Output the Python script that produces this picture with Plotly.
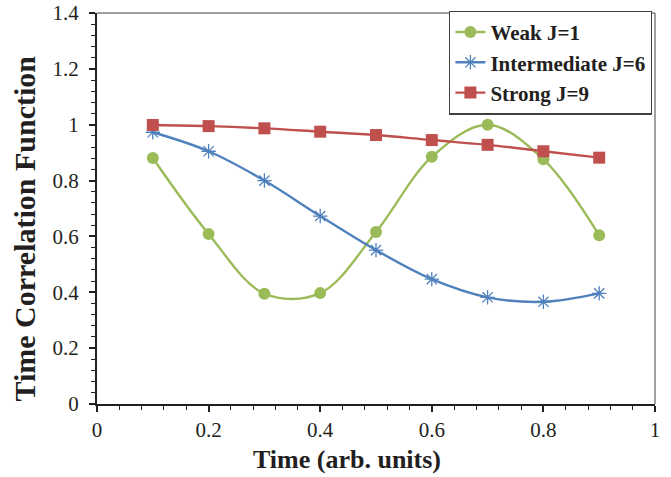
import plotly.graph_objects as go

# Time samples (arb. units)
time = [0.1, 0.2, 0.3, 0.4, 0.5, 0.6, 0.7, 0.8, 0.9]

# Time correlation function for three coupling strengths
weak_j1 = [0.881, 0.609, 0.395, 0.397, 0.616, 0.885, 1.0, 0.876, 0.604]
intermediate_j6 = [0.973, 0.905, 0.800, 0.673, 0.551, 0.447, 0.382, 0.366, 0.396]
strong_j9 = [0.999, 0.995, 0.987, 0.975, 0.963, 0.945, 0.928, 0.905, 0.882]

series_names = ["Weak J=1", "Intermediate J=6", "Strong J=9"]
x_ticks = [0, 0.2, 0.4, 0.6, 0.8, 1]
x_tick_text = ["0", "0.2", "0.4", "0.6", "0.8", "1"]
y_ticks = [0, 0.2, 0.4, 0.6, 0.8, 1, 1.2, 1.4]
y_tick_text = ["0", "0.2", "0.4", "0.6", "0.8", "1", "1.2", "1.4"]

FONT = "Liberation Serif"
GREEN = "#9BBB59"
BLUE = "#4F81BD"
RED = "#C0504D"

fig = go.Figure()

fig.add_trace(go.Scatter(
    x=time, y=weak_j1, name=series_names[0], mode="lines+markers",
    line=dict(color=GREEN, width=2.4, shape="spline", smoothing=1),
    marker=dict(symbol="circle", size=12, color=GREEN),
))
fig.add_trace(go.Scatter(
    x=time, y=intermediate_j6, name=series_names[1], mode="lines+markers",
    line=dict(color=BLUE, width=2.4, shape="spline", smoothing=1),
    marker=dict(symbol="asterisk-open", size=12, color=BLUE,
                line=dict(color=BLUE, width=1.3)),
))
fig.add_trace(go.Scatter(
    x=time, y=strong_j9, name=series_names[2], mode="lines+markers",
    line=dict(color=RED, width=2.4, shape="spline", smoothing=1),
    marker=dict(symbol="square", size=12, color=RED),
))

# Thin grey frame on the top and right of the plotting area
fig.add_shape(type="line", xref="paper", yref="paper", x0=0, x1=1, y0=1, y1=1,
              line=dict(color="#808080", width=1.5), layer="above")
fig.add_shape(type="line", xref="paper", yref="paper", x0=1, x1=1, y0=0, y1=1,
              line=dict(color="#808080", width=1.5), layer="above")

# Axis titles placed as annotations relative to the plotting area
fig.add_annotation(text="<b>Time (arb. units)</b>", xref="paper", yref="paper",
                   x=0.5, y=0, xshift=-29, yshift=-55, xanchor="center", yanchor="middle",
                   showarrow=False, font=dict(family=FONT, size=26, color="#231F20"))
fig.add_annotation(text="<b>Time Correlation Function</b>", xref="paper", yref="paper",
                   x=0, y=0.5, xshift=-73, yshift=-20, xanchor="center", yanchor="middle",
                   textangle=-90, showarrow=False,
                   font=dict(family=FONT, size=30, color="#231F20"))

fig.update_layout(
    width=671, height=477,
    margin=dict(l=97, r=16, t=11, b=73),
    paper_bgcolor="white", plot_bgcolor="white",
    font=dict(family=FONT, color="#231F20", size=21),
    showlegend=True,
    legend=dict(
        x=0.995, y=1.006, xanchor="right", yanchor="top",
        bgcolor="white", bordercolor="#404040", borderwidth=1.2,
        font=dict(family=FONT, size=21, color="#231F20", weight="bold"),
        tracegroupgap=0, itemwidth=30,
    ),
    xaxis=dict(
        range=[0, 1], tickvals=x_ticks, ticktext=x_tick_text,
        automargin=False,
        showgrid=False, zeroline=False,
        showline=True, linecolor="#231F20", linewidth=2,
        ticks="outside", ticklen=6, tickwidth=1.5, tickcolor="#231F20",
        minor=dict(dtick=0.04, ticks="outside", ticklen=4, tickwidth=1,
                   tickcolor="#231F20", showgrid=False),
        tickfont=dict(family=FONT, size=21),
    ),
    yaxis=dict(
        range=[0, 1.4], tickvals=y_ticks, ticktext=y_tick_text,
        automargin=False,
        showgrid=False, zeroline=False,
        showline=True, linecolor="#231F20", linewidth=2,
        ticks="outside", ticklen=6, tickwidth=1.5, tickcolor="#231F20",
        ticklabelstandoff=6,
        minor=dict(dtick=0.04, ticks="outside", ticklen=4, tickwidth=1,
                   tickcolor="#231F20", showgrid=False),
        tickfont=dict(family=FONT, size=21),
    ),
)

fig.write_html("out.html")
